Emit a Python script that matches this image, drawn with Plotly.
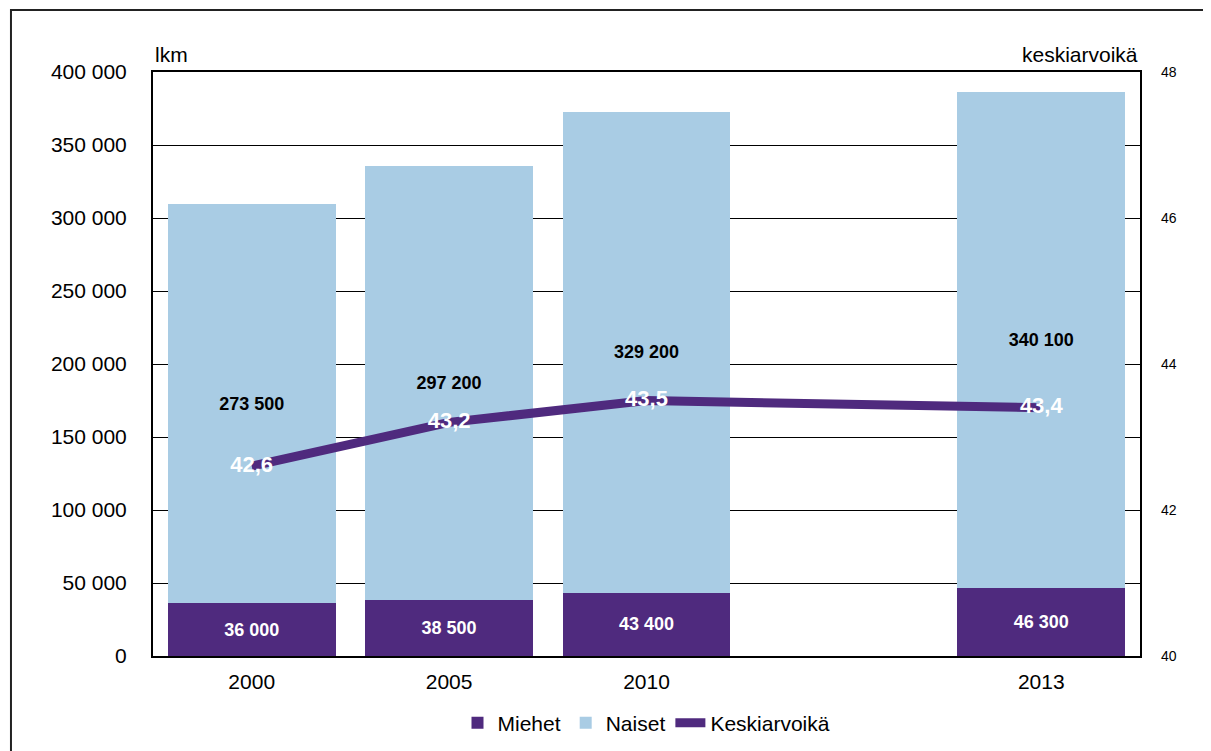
import plotly.graph_objects as go

years = ["2000", "2005", "2010", "2013"]
axis_slots = ["2000", "2005", "2010", " ", "2013"]
miehet = [36000, 38500, 43400, 46300]
naiset = [273500, 297200, 329200, 340100]
keskiarvoika = [42.6, 43.2, 43.5, 43.4]

DARK = "#4F2A7E"
LIGHT = "#A9CCE4"
FONT = "Liberation Sans, Arial, sans-serif"

def fmt_int(v):
    return f"{v:,}".replace(",", " ")

def fmt_dec(v):
    return f"{v:.1f}".replace(".", ",")

fig = go.Figure()
fig.add_trace(go.Bar(
    x=years, y=miehet, name="Miehet", marker=dict(color=DARK, line=dict(width=0)),
    text=[fmt_int(v) for v in miehet], textposition="inside", insidetextanchor="middle",
    textfont=dict(family=FONT, size=18, color="white", weight="bold"), textangle=0,
))
fig.add_trace(go.Bar(
    x=years, y=naiset, name="Naiset", marker=dict(color=LIGHT, line=dict(width=0)),
    text=[fmt_int(v) for v in naiset], textposition="inside", insidetextanchor="middle",
    textfont=dict(family=FONT, size=18, color="black", weight="bold"), textangle=0,
))
fig.add_trace(go.Scatter(
    x=years, y=keskiarvoika, name="Keskiarvoikä", yaxis="y2", mode="lines+text",
    line=dict(color=DARK, width=9),
    text=[fmt_dec(v) for v in keskiarvoika], textposition="middle center",
    textfont=dict(family=FONT, size=22, color="white", weight="bold"),
))

fig.update_layout(
    width=1211, height=751,
    margin=dict(l=145, r=79, t=64, b=103, autoexpand=False),
    paper_bgcolor="white", plot_bgcolor="white",
    barmode="stack", bargap=0.15,
    font=dict(family=FONT, size=21, color="black"),
    showlegend=True,
    legend=dict(orientation="h", x=0.5, xanchor="center", y=-0.08, yanchor="top",
                font=dict(size=21), traceorder="normal", itemwidth=30),
    xaxis=dict(type="category", categoryorder="array", categoryarray=axis_slots,
               range=[-0.5, 4.5], showgrid=False, showline=True, linecolor="black",
               linewidth=2, mirror=True, ticks="", tickfont=dict(size=21),
               automargin=False, ticklabelstandoff=6),
    yaxis=dict(range=[0, 400000], dtick=50000, tickformat=",d", showgrid=True,
               gridcolor="black", gridwidth=1.3, showline=True, linecolor="black",
               linewidth=2, mirror=True, ticks="", zeroline=False,
               tickfont=dict(size=21), ticklabelstandoff=20, automargin=False),
    yaxis2=dict(range=[40, 48], dtick=2, overlaying="y", side="right", showgrid=False,
                showline=False, ticks="", zeroline=False, tickfont=dict(size=14),
                ticklabelstandoff=20, automargin=False),
    separators=", ",
    annotations=[
        dict(text="lkm", xref="paper", yref="paper", x=0, y=1.0, xanchor="left",
             yanchor="bottom", yshift=4, showarrow=False, font=dict(size=21)),
        dict(text="keskiarvoikä", xref="paper", yref="paper", x=1, y=1.0, xanchor="right",
             yanchor="bottom", yshift=4, showarrow=False, font=dict(size=21)),
    ],
    shapes=[
        dict(type="rect", xref="paper", yref="paper", x0=-0.1439, x1=1.2, y0=-0.3, y1=1.106,
             line=dict(color="#222222", width=2), fillcolor="rgba(0,0,0,0)", layer="above"),
    ],
)

fig.write_html("out.html")
